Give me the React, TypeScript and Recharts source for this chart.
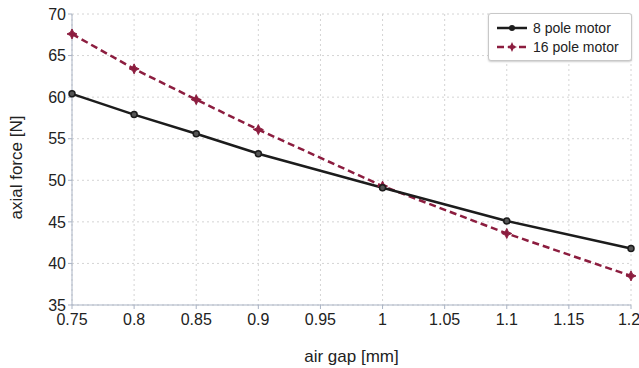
import { CartesianGrid, Line, LineChart, XAxis, YAxis } from "recharts";

const airGap = [0.75, 0.8, 0.85, 0.9, 1.0, 1.1, 1.2];
const force8Pole = [60.4, 57.9, 55.6, 53.2, 49.1, 45.1, 41.8];
const force16Pole = [67.6, 63.4, 59.7, 56.1, 49.3, 43.6, 38.5];
const xTicks = [0.75, 0.8, 0.85, 0.9, 0.95, 1, 1.05, 1.1, 1.15, 1.2];
const yTicks = [35, 40, 45, 50, 55, 60, 65, 70];

const COL_8 = "#1c1c1c";
const COL_16 = "#8c1d3f";
const FONT = "'Liberation Sans', Arial, sans-serif";

const data = airGap.map((g, i) => ({ gap: g, p8: force8Pole[i], p16: force16Pole[i] }));

// small 4-point star, like the original's red markers
function StarDot(props: any) {
  const { cx, cy } = props;
  if (cx == null || cy == null) return null;
  const d = `M${cx} ${cy - 5} L${cx + 1.6} ${cy - 1.6} L${cx + 5} ${cy} L${cx + 1.6} ${cy + 1.6} L${cx} ${cy + 5} L${cx - 1.6} ${cy + 1.6} L${cx - 5} ${cy} L${cx - 1.6} ${cy - 1.6} Z`;
  return <path d={d} fill={COL_16} stroke={COL_16} strokeWidth={1} />;
}

function LegendBox() {
  const row = (color: string, dash: string | undefined, label: string, marker: "c" | "s") => (
    <div style={{ display: "flex", alignItems: "center", height: 19 }}>
      <svg width={34} height={12}>
        <line x1={2} y1={6} x2={32} y2={6} stroke={color} strokeWidth={2.5} strokeDasharray={dash} />
        {marker === "c" ? (
          <circle cx={17} cy={6} r={3} fill={color} />
        ) : (
          <path d="M17 1 L18.6 4.4 L22 6 L18.6 7.6 L17 11 L15.4 7.6 L12 6 L15.4 4.4 Z" fill={color} />
        )}
      </svg>
      <span style={{ marginLeft: 4 }}>{label}</span>
    </div>
  );
  return (
    <div
      style={{
        position: "absolute",
        left: 488,
        top: 13,
        width: 144,
        border: "1px solid #c8c8c8",
        borderRadius: 3,
        background: "#fff",
        padding: "4px 0 4px 6px",
        boxSizing: "border-box",
        fontFamily: FONT,
        fontSize: 14,
        color: "#222",
        boxShadow: "0 1px 2px rgba(0,0,0,0.2)",
      }}
    >
      {row(COL_8, undefined, "8 pole motor", "c")}
      {row(COL_16, "7 4", "16 pole motor", "s")}
    </div>
  );
}

export default function App() {
  return (
    <div style={{ position: "relative", width: 639, height: 368, background: "#fff", fontFamily: FONT }}>
      <style>{"body{margin:0}"}</style>
      <LineChart width={639} height={368} data={data} margin={{ top: 14, right: 8, left: 14, bottom: 0 }}>
        <CartesianGrid stroke="#d4d4d4" strokeDasharray="2 3" />
        <XAxis
          dataKey="gap"
          type="number"
          domain={[0.75, 1.2]}
          ticks={xTicks}
          tick={{ fontSize: 16, fill: "#222", fontFamily: FONT }}
          tickFormatter={(v: number) => String(Number(v.toFixed(2)))}
          axisLine={{ stroke: "#a9b3c4" }}
          tickLine={{ stroke: "#a9b3c4" }}
          tickSize={4}
          tickMargin={5}
          height={63}
          label={{ value: "air gap [mm]", position: "insideBottom", offset: 6, fontSize: 17, fill: "#222", fontFamily: FONT }}
        />
        <YAxis
          type="number"
          domain={[35, 70]}
          ticks={yTicks}
          tick={{ fontSize: 16, fill: "#222", fontFamily: FONT }}
          axisLine={{ stroke: "#a9b3c4" }}
          tickLine={{ stroke: "#a9b3c4" }}
          tickSize={4}
          width={58}
          label={{ value: "axial force [N]", angle: -90, position: "insideLeft", offset: 2, dy: 60, fontSize: 17, fill: "#222", fontFamily: FONT }}
        />
        <Line
          dataKey="p16"
          name="16 pole motor"
          stroke={COL_16}
          strokeWidth={2.5}
          strokeDasharray="7 4"
          dot={<StarDot />}
          isAnimationActive={false}
        />
        <Line
          dataKey="p8"
          name="8 pole motor"
          stroke={COL_8}
          strokeWidth={2.5}
          dot={{ r: 3, fill: "#555", stroke: COL_8, strokeWidth: 1.5 }}
          isAnimationActive={false}
        />
      </LineChart>
      <LegendBox />
    </div>
  );
}
